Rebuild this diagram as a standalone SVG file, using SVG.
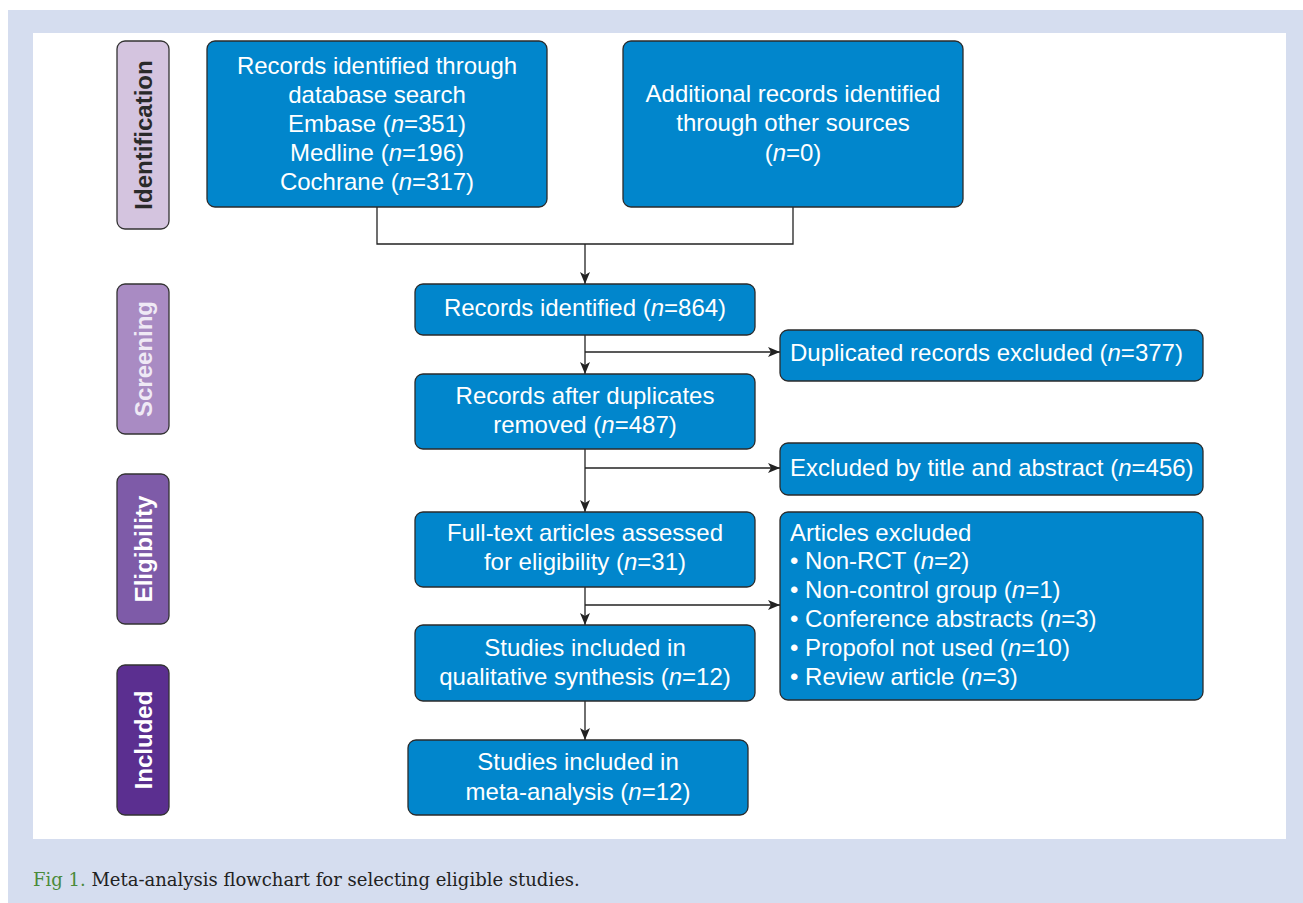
<svg xmlns="http://www.w3.org/2000/svg" width="1303" height="903" viewBox="0 0 1303 903">
<defs>
<style>
.box{fill:#0186cc;stroke:#2b2b2b;stroke-width:1.3}
.lab{stroke:#333;stroke-width:1.3}
.t{font-family:"Liberation Sans",Arial,sans-serif;font-size:24px;fill:#ffffff}
.c{text-anchor:middle}
.s{font-family:"Liberation Sans",Arial,sans-serif;font-size:24px;font-weight:bold;text-anchor:middle}
.i{font-style:italic}
.ln{fill:none;stroke:#222;stroke-width:1.3}
.cap{font-family:"DejaVu Serif","Liberation Serif",serif;font-size:18px;fill:#222}
</style>
<marker id="ah" viewBox="0 0 12 10" refX="12" refY="5" markerWidth="12" markerHeight="10" markerUnits="userSpaceOnUse" orient="auto">
<path d="M0,0 L12,5 L0,10 L3,5 Z" fill="#222"/>
</marker>
</defs>
<rect x="0" y="0" width="1303" height="903" fill="#ffffff"/>
<rect x="8" y="10" width="1295" height="893" fill="#d5ddef"/>
<rect x="33" y="33" width="1253" height="806" fill="#ffffff"/>

<g id="label-identification">
<rect class="lab" x="117" y="41" width="52" height="188" rx="8" fill="#d4c4df"/>
<text class="s" transform="translate(152,135) rotate(-90)" fill="#2a2a2a">Identification</text>
</g>
<g id="label-screening">
<rect class="lab" x="117" y="284" width="52" height="150" rx="8" fill="#a98bc3"/>
<text class="s" transform="translate(152,359) rotate(-90)" fill="#efe9f5">Screening</text>
</g>
<g id="label-eligibility">
<rect class="lab" x="117" y="474" width="52" height="150" rx="8" fill="#7e5ba8"/>
<text class="s" transform="translate(152,549) rotate(-90)" fill="#ffffff">Eligibility</text>
</g>
<g id="label-included">
<rect class="lab" x="117" y="665" width="52" height="150" rx="8" fill="#5b2f90"/>
<text class="s" transform="translate(152,740) rotate(-90)" fill="#ffffff">Included</text>
</g>

<g id="connectors">
<polyline class="ln" points="377,207 377,244 793,244 793,207"/>
<line class="ln" x1="585" y1="244" x2="585" y2="284" marker-end="url(#ah)"/>
<line class="ln" x1="585" y1="335" x2="585" y2="374" marker-end="url(#ah)"/>
<line class="ln" x1="585" y1="352" x2="780" y2="352" marker-end="url(#ah)"/>
<line class="ln" x1="585" y1="449" x2="585" y2="512" marker-end="url(#ah)"/>
<line class="ln" x1="585" y1="468" x2="780" y2="468" marker-end="url(#ah)"/>
<line class="ln" x1="585" y1="587" x2="585" y2="625" marker-end="url(#ah)"/>
<line class="ln" x1="585" y1="605" x2="780" y2="605" marker-end="url(#ah)"/>
<line class="ln" x1="585" y1="701" x2="585" y2="740" marker-end="url(#ah)"/>
</g>

<g id="node-database">
<rect class="box" x="207" y="41" width="340" height="166" rx="8"/>
<text class="t c" x="377" y="74">Records identified through</text>
<text class="t c" x="377" y="103">database search</text>
<text class="t c" x="377" y="132">Embase (<tspan class="i">n</tspan>=351)</text>
<text class="t c" x="377" y="161">Medline (<tspan class="i">n</tspan>=196)</text>
<text class="t c" x="377" y="190">Cochrane (<tspan class="i">n</tspan>=317)</text>
</g>
<g id="node-other">
<rect class="box" x="623" y="41" width="340" height="166" rx="8"/>
<text class="t c" x="793" y="102">Additional records identified</text>
<text class="t c" x="793" y="131">through other sources</text>
<text class="t c" x="793" y="161">(<tspan class="i">n</tspan>=0)</text>
</g>
<g id="node-identified">
<rect class="box" x="415" y="284" width="340" height="51" rx="8"/>
<text class="t c" x="585" y="316">Records identified (<tspan class="i">n</tspan>=864)</text>
</g>
<g id="node-duplicates">
<rect class="box" x="780" y="330" width="423" height="51" rx="8"/>
<text class="t" x="790" y="361">Duplicated records excluded (<tspan class="i">n</tspan>=377)</text>
</g>
<g id="node-after-dup">
<rect class="box" x="415" y="374" width="340" height="75" rx="8"/>
<text class="t c" x="585" y="404">Records after duplicates</text>
<text class="t c" x="585" y="433">removed (<tspan class="i">n</tspan>=487)</text>
</g>
<g id="node-title-abstract">
<rect class="box" x="780" y="443" width="423" height="52" rx="8"/>
<text class="t" x="790" y="476">Excluded by title and abstract (<tspan class="i">n</tspan>=456)</text>
</g>
<g id="node-fulltext">
<rect class="box" x="415" y="512" width="340" height="75" rx="8"/>
<text class="t c" x="585" y="541">Full-text articles assessed</text>
<text class="t c" x="585" y="570">for eligibility (<tspan class="i">n</tspan>=31)</text>
</g>
<g id="node-articles-excluded">
<rect class="box" x="780" y="512" width="423" height="188" rx="8"/>
<text class="t" x="790" y="541">Articles excluded</text>
<text class="t" x="790" y="569">• Non-RCT (<tspan class="i">n</tspan>=2)</text>
<text class="t" x="790" y="598">• Non-control group (<tspan class="i">n</tspan>=1)</text>
<text class="t" x="790" y="627">• Conference abstracts (<tspan class="i">n</tspan>=3)</text>
<text class="t" x="790" y="656">• Propofol not used (<tspan class="i">n</tspan>=10)</text>
<text class="t" x="790" y="685">• Review article (<tspan class="i">n</tspan>=3)</text>
</g>
<g id="node-qualitative">
<rect class="box" x="415" y="625" width="340" height="76" rx="8"/>
<text class="t c" x="585" y="656">Studies included in</text>
<text class="t c" x="585" y="685">qualitative synthesis (<tspan class="i">n</tspan>=12)</text>
</g>
<g id="node-meta">
<rect class="box" x="408" y="740" width="340" height="75" rx="8"/>
<text class="t c" x="578" y="770">Studies included in</text>
<text class="t c" x="578" y="800">meta-analysis (<tspan class="i">n</tspan>=12)</text>
</g>

<text class="cap" x="33" y="886"><tspan fill="#4a8a3a">Fig 1.</tspan> Meta-analysis flowchart for selecting eligible studies.</text>
</svg>
